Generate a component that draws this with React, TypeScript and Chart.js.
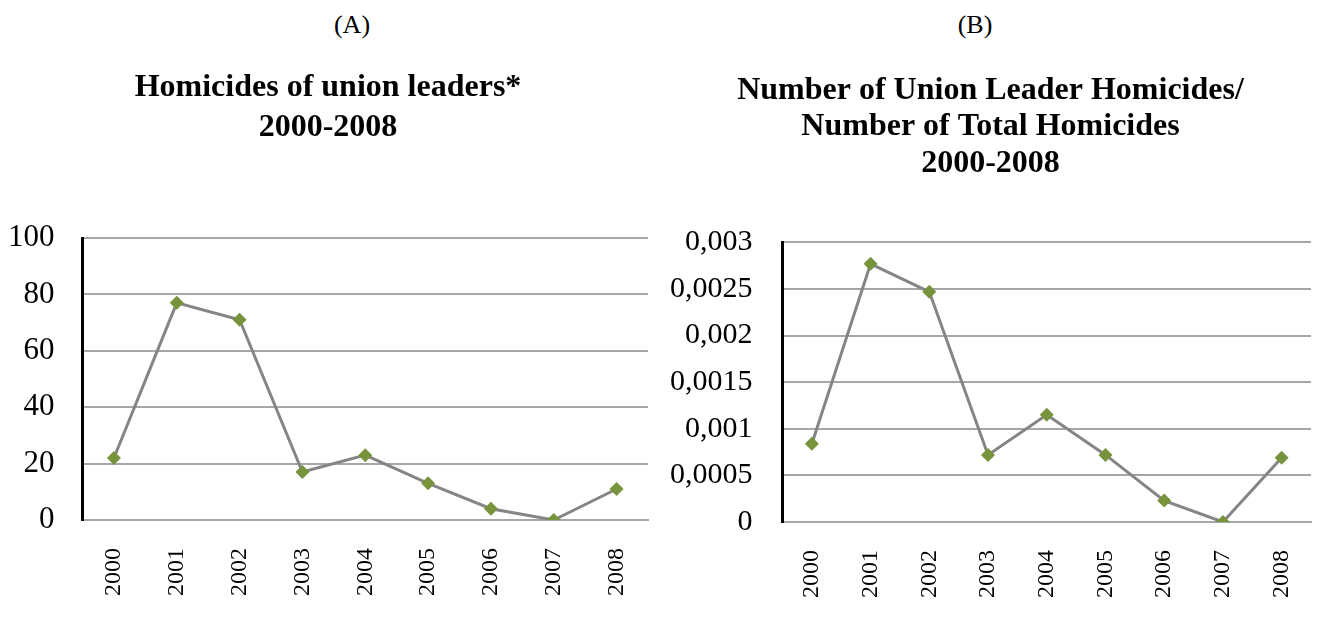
import React, { useEffect, useRef } from "react";
import { Chart, registerables } from "chart.js";

Chart.register(...registerables);

const years = ["2000", "2001", "2002", "2003", "2004", "2005", "2006", "2007", "2008"];
const unionHomicides = [22, 77, 71, 17, 23, 13, 4, 0, 11];
const homicideRatio = [0.00084, 0.00277, 0.00247, 0.00072, 0.00115, 0.00072, 0.00023, 0, 0.00069];
const leftTickLabels = ["0", "20", "40", "60", "80", "100"];
const rightTickLabels = ["0", "0,0005", "0,001", "0,0015", "0,002", "0,0025", "0,003"];

const FONT = "'Liberation Serif', 'Times New Roman', serif";
const LINE = "#858585";
const MARK = "#77933C";
const GRID = "#a6a6a6";
const X_PAD = 28;

function makeConfig(opts: any) {
  return {
    type: "line",
    data: {
      labels: years,
      datasets: [
        {
          data: opts.values,
          borderColor: LINE,
          borderWidth: 3,
          tension: 0,
          pointStyle: "rectRot",
          pointRadius: 7,
          pointBackgroundColor: MARK,
          pointBorderColor: MARK,
          pointBorderWidth: 0,
        },
      ],
    },
    options: {
      animation: false,
      responsive: true,
      maintainAspectRatio: false,
      layout: { padding: opts.layoutPadding },
      plugins: {
        legend: { display: false },
        tooltip: { enabled: false },
        title: {
          display: true,
          text: opts.title,
          color: "#000",
          align: "center",
          font: { family: FONT, size: 32, weight: "bold", lineHeight: opts.titleLineHeight },
          padding: opts.titlePadding,
        },
      },
      scales: {
        x: {
          offset: true,
          grid: { display: false, drawTicks: false },
          border: { display: true, color: GRID, width: 2 },
          afterFit: (scale: any) => {
            scale.paddingLeft = 0;
            scale.paddingRight = 0;
            scale.height = scale.height - X_PAD;
          },
          ticks: {
            color: "#000",
            font: { family: FONT, size: 24 },
            minRotation: 90,
            maxRotation: 90,
            autoSkip: false,
            padding: X_PAD,
          },
        },
        y: {
          min: 0,
          max: opts.max,
          grid: { color: GRID, lineWidth: 2, drawTicks: false },
          border: { display: true, color: "#000", width: 3 },
          afterFit: (scale: any) => {
            scale.width = scale.width - opts.yPad;
          },
          ticks: {
            stepSize: opts.step,
            color: "#000",
            font: { family: FONT, size: opts.yFont },
            padding: opts.yPad,
            callback: (_v: any, i: number) => opts.tickLabels[i],
          },
        },
      },
    },
  };
}

function ChartBox(props: { config: any; style: React.CSSProperties }) {
  const ref = useRef<HTMLCanvasElement | null>(null);
  useEffect(() => {
    if (!ref.current) return;
    const chart = new Chart(ref.current, props.config);
    return () => chart.destroy();
  }, []);
  return (
    <div style={{ position: "absolute", ...props.style }}>
      <canvas ref={ref} />
    </div>
  );
}

export default function App() {
  const leftCfg = makeConfig({
    values: unionHomicides,
    max: 100,
    step: 20,
    tickLabels: leftTickLabels,
    yFont: 31,
    yPad: 28,
    title: ["Homicides of union leaders*", "2000-2008"],
    titleLineHeight: 1.25,
    titlePadding: { top: 68, bottom: 90 },
    layoutPadding: { left: 8, right: 12, top: 0, bottom: 23 },
  });
  const rightCfg = makeConfig({
    values: homicideRatio,
    max: 0.003,
    step: 0.0005,
    tickLabels: rightTickLabels,
    yFont: 30,
    yPad: 30,
    title: ["Number of Union Leader Homicides/", "Number of Total Homicides", "2000-2008"],
    titleLineHeight: 1.15,
    titlePadding: { top: 72, bottom: 60 },
    layoutPadding: { left: 10, right: 7, top: 0, bottom: 21 },
  });
  const labelStyle: React.CSSProperties = {
    position: "absolute",
    top: 8,
    fontFamily: FONT,
    fontSize: 26,
    lineHeight: "34px",
    width: 100,
    textAlign: "center",
    color: "#000",
  };
  return (
    <div style={{ position: "fixed", left: 0, top: 0, width: 1318, height: 619, background: "#fff" }}>
      <div style={{ ...labelStyle, left: 302 }}>(A)</div>
      <div style={{ ...labelStyle, left: 925 }}>(B)</div>
      <ChartBox config={leftCfg} style={{ left: 0, top: 0, width: 660, height: 619 }} />
      <ChartBox config={rightCfg} style={{ left: 660, top: 0, width: 658, height: 619 }} />
    </div>
  );
}
